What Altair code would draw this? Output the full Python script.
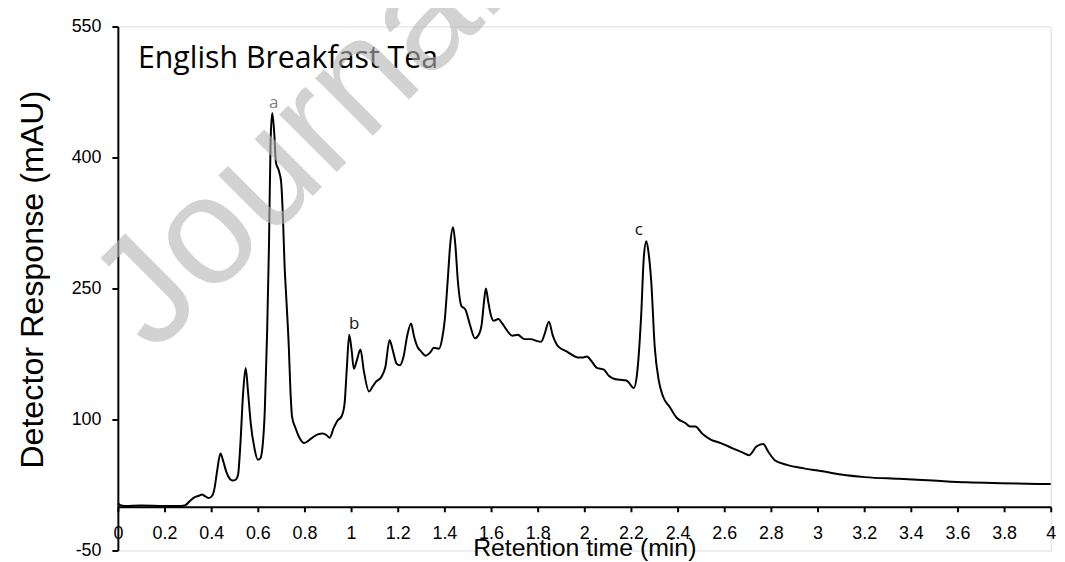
import altair as alt
import pandas as pd

# ---- chromatogram ----
time_min = [0.000, 0.010, 0.030, 0.100, 0.200, 0.270, 0.290, 0.310, 0.330, 0.350,
            0.360, 0.375, 0.390, 0.405, 0.415, 0.425, 0.440, 0.452, 0.465, 0.480,
            0.492, 0.505, 0.515, 0.525, 0.537, 0.548, 0.558, 0.570, 0.585, 0.600,
            0.610, 0.620, 0.630, 0.640, 0.648, 0.655, 0.662, 0.670, 0.678, 0.690,
            0.700, 0.708, 0.715, 0.722, 0.733, 0.740, 0.747, 0.762, 0.777, 0.799,
            0.828, 0.857, 0.879, 0.895, 0.908, 0.925, 0.940, 0.960, 0.972, 0.982,
            0.992, 1.002, 1.012, 1.025, 1.040, 1.055, 1.077, 1.093, 1.106, 1.128,
            1.147, 1.165, 1.178, 1.195, 1.209, 1.225, 1.240, 1.257, 1.270, 1.285,
            1.300, 1.319, 1.340, 1.355, 1.377, 1.390, 1.402, 1.414, 1.425, 1.437,
            1.447, 1.458, 1.473, 1.490, 1.509, 1.531, 1.545, 1.560, 1.570, 1.578,
            1.588, 1.597, 1.612, 1.631, 1.648, 1.663, 1.692, 1.714, 1.744, 1.771,
            1.795, 1.815, 1.830, 1.848, 1.865, 1.887, 1.924, 1.974, 1.995, 2.011,
            2.033, 2.054, 2.084, 2.105, 2.134, 2.171, 2.185, 2.212, 2.226, 2.244,
            2.255, 2.266, 2.276, 2.287, 2.302, 2.319, 2.338, 2.367, 2.396, 2.433,
            2.454, 2.476, 2.505, 2.542, 2.585, 2.636, 2.680, 2.706, 2.738, 2.767,
            2.789, 2.818, 2.869, 2.941, 3.014, 3.101, 3.203, 3.349, 3.494, 3.639,
            3.785, 4.000]
response_mau = [4, 2, 1, 1.5, 1, 1, 2, 7, 11, 13,
                14, 12, 10, 13, 22, 40, 61, 52, 40, 32,
                30, 31, 36, 70, 130, 159, 132, 95, 68, 54,
                55, 68, 110, 200, 300, 420, 451, 430, 394, 385,
                372, 330, 275, 240, 183, 133, 103, 90, 80, 73,
                78, 83, 84, 82, 79, 90, 98, 104, 118, 160,
                197, 180, 158, 168, 180, 155, 132, 138, 143, 148,
                160, 191, 180, 164, 162, 172, 195, 210, 195, 183,
                178, 173, 177, 182, 181, 192, 215, 258, 300, 320,
                300, 258, 230, 226, 209, 193, 196, 209, 235, 250,
                235, 222, 213, 215, 210, 204, 196, 197, 192, 192,
                190, 189, 198, 212, 196, 184, 178, 171, 171, 172,
                166, 159, 157, 150, 146, 145, 144, 136, 152, 220,
                285, 304, 290, 258, 183, 145, 126, 114, 102, 96,
                92, 92, 84, 77, 73, 67, 62, 59, 69, 72,
                63, 53, 48, 44, 41, 37, 34, 32, 30, 28,
                27, 26]

# ---- axis ticks ----
x_ticks = [0, 0.2, 0.4, 0.6, 0.8, 1, 1.2, 1.4, 1.6, 1.8, 2, 2.2, 2.4, 2.6, 2.8,
           3, 3.2, 3.4, 3.6, 3.8, 4]
y_ticks = [-50, 100, 250, 400, 550]

# ---- peak labels ----
peak_names = ["a", "b", "c"]
peak_t = [0.668, 1.013, 2.234]
peak_v = [456.6, 203.6, 310.8]
peak_colors = ["#7f7f7f", "#111111", "#111111"]

# ---- in-plot title and watermark ----
title_text = ["English Breakfast Tea"]
title_t = [0.0864]
title_v = [502]
watermark_text = ["Journal Pre-proof"]
watermark_t = [0.154]
watermark_v = [174]

df = pd.DataFrame({"t": time_min, "v": response_mau})
lbl = pd.DataFrame({"t": peak_t, "v": peak_v, "label": peak_names, "color": peak_colors})
ttl = pd.DataFrame({"t": title_t, "v": title_v, "label": title_text})
wm = pd.DataFrame({"t": watermark_t, "v": watermark_v, "label": watermark_text})

xscale = alt.Scale(domain=[0, 4], nice=False, zero=False)
yscale = alt.Scale(domain=[-50, 550], nice=False, zero=False)

x_axis = alt.Axis(
    values=x_ticks, format=".1~f", grid=False,
    labelFont="Liberation Sans", labelFontSize=18, labelColor="black",
    labelPadding=12.5, labelFlush=False, labelOverlap=False,
    tickColor="black", tickWidth=2, tickSize=5,
    domainColor="black", domainWidth=2, offset=-44,
    title="Retention time (min)", titleFont="Liberation Sans", titleFontSize=25,
    titleFontWeight="normal", titleColor="black", titleX=470, titleY=49.5,
    titleBaseline="alphabetic", titleAlign="center",
)
y_axis = alt.Axis(
    values=y_ticks, grid=False,
    labelExpr="datum.value < 0 ? '-' + abs(datum.value) : datum.label",
    labelFont="Liberation Sans", labelFontSize=18, labelColor="black",
    labelPadding=11, labelFlush=False, labelOverlap=False,
    tickColor="black", tickWidth=2, tickSize=6,
    domainColor="black", domainWidth=2,
    title="Detector Response (mAU)", titleFont="Liberation Sans", titleFontSize=32.5,
    titleFontWeight="normal", titleColor="black", titleAngle=270,
    titleX=-75.7, titleY=254.7, titleBaseline="alphabetic", titleAlign="center",
)

line = alt.Chart(df).mark_line(color="black", strokeWidth=2, interpolate="monotone").encode(
    x=alt.X("t:Q", scale=xscale, axis=x_axis),
    y=alt.Y("v:Q", scale=yscale, axis=y_axis),
)

labels = alt.Chart(lbl).mark_text(font="Open Sans", fontSize=17, align="center",
                                  baseline="alphabetic").encode(
    x=alt.X("t:Q", scale=xscale), y=alt.Y("v:Q", scale=yscale),
    text="label:N", color=alt.Color("color:N", scale=None),
)

title = alt.Chart(ttl).mark_text(font="Open Sans", fontSize=30.5, align="left",
                                 baseline="alphabetic", color="black").encode(
    x=alt.X("t:Q", scale=xscale), y=alt.Y("v:Q", scale=yscale), text="label:N",
)

watermark = alt.Chart(wm).mark_text(font="Liberation Sans", fontSize=155, align="left",
                                    baseline="alphabetic", angle=315,
                                    color="#b5b5b5", opacity=0.6).encode(
    x=alt.X("t:Q", scale=xscale), y=alt.Y("v:Q", scale=yscale), text="label:N",
)

chart = alt.layer(line, labels, title, watermark).properties(
    width=940, height=528,
    autosize=alt.AutoSizeParams(type="none"),
    padding={"left": 110.7, "top": 16.5, "right": 6.3, "bottom": 9.5},
).configure_view(stroke=None).configure(background="white")

chart.save("out.html", embed_options={"renderer": "svg", "actions": False})
